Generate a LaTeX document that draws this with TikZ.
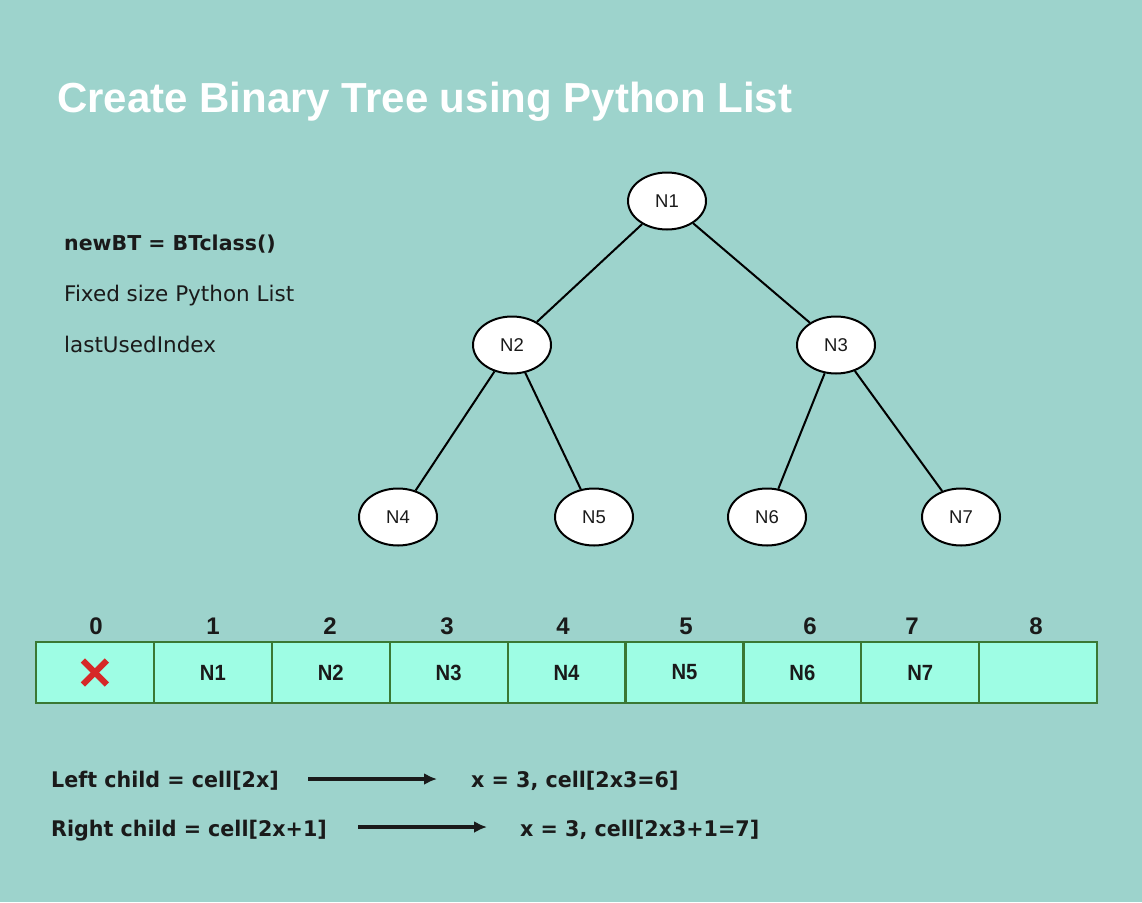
\documentclass[tikz,border=0pt]{standalone}
\usepackage{fontspec}
\setmainfont{Liberation Sans}
\newfontfamily\grande{DejaVu Sans}
\newfontfamily\grandetight[FakeStretch=0.96]{DejaVu Sans}
\newfontfamily\cellfont[FakeStretch=0.92]{Liberation Sans}
\usetikzlibrary{arrows.meta,shapes.geometric}

\definecolor{bgteal}{HTML}{9DD3CC}
\definecolor{cellfill}{HTML}{9EFDE4}
\definecolor{cellline}{HTML}{3A7834}
\definecolor{crossred}{HTML}{D62828}
\definecolor{ink}{HTML}{1A1A1A}

\tikzset{
  treenode/.style={ellipse, draw=black, line width=2pt, fill=white,
    minimum width=78pt, minimum height=57pt, inner sep=0pt,
    font=\fontsize{18.5}{20}\selectfont, text=ink},
  treeedge/.style={draw=black, line width=2pt},
  cellbox/.style={rectangle, draw=cellline, line width=2.2pt, fill=cellfill,
    minimum width=117.9pt, minimum height=61pt, inner sep=0pt,
    font=\cellfont\bfseries\fontsize{22}{24}\selectfont, text=ink},
  idxlabel/.style={inner sep=0pt, anchor=base, text=ink,
    font=\bfseries\fontsize{24}{26}\selectfont},
  lefttext/.style={inner sep=0pt, anchor=base west, text=ink},
  ruletext/.style={lefttext, font=\grandetight\bfseries\fontsize{21.5}{24}\selectfont},
  rulearrow/.style={draw=ink, line width=3.2pt, -{Latex[length=13pt,width=12pt]}}
}

\begin{document}
\begin{tikzpicture}[x=1pt,y=-1pt]
  % background
  \fill[bgteal] (0,0) rectangle (1142,902);
  \useasboundingbox (0,0) rectangle (1142,902);

  % title
  \node[inner sep=0pt, anchor=base west, text=white,
        font=\bfseries\fontsize{42}{48}\selectfont] (title) at (57,112)
        {Create Binary Tree using Python List};

  % notes on the left
  \node[lefttext, font=\grande\bfseries\fontsize{20.5}{24}\selectfont] (ctor) at (64,250) {newBT = BTclass()};
  \node[lefttext, font=\grande\fontsize{21.5}{24}\selectfont] (fixed) at (64,301) {Fixed size Python List};
  \node[lefttext, font=\grande\fontsize{21.5}{24}\selectfont] (last) at (64,352) {lastUsedIndex};

  % tree
  \node[treenode] (n1) at (667,201) {N1};
  \node[treenode] (n2) at (512,345) {N2};
  \node[treenode] (n3) at (836,345) {N3};
  \node[treenode] (n4) at (398,517) {N4};
  \node[treenode] (n5) at (594,517) {N5};
  \node[treenode] (n6) at (767,517) {N6};
  \node[treenode] (n7) at (961,517) {N7};
  \draw[treeedge] (n1) -- (n2);
  \draw[treeedge] (n1) -- (n3);
  \draw[treeedge] (n2) -- (n4);
  \draw[treeedge] (n2) -- (n5);
  \draw[treeedge] (n3) -- (n6);
  \draw[treeedge] (n3) -- (n7);

  % list cells
  \foreach \i/\t in {0/{}, 1/N1, 2/N2, 3/N3, 4/N4, 5/N5, 6/N6, 7/N7, 8/{}} {
    \node[cellbox] (c\i) at ({36+117.9*(\i+0.5)},672.5) {\t};
  }
  % index labels
  \foreach \i/\x in {0/96, 1/213, 2/330, 3/447, 4/563, 5/686, 6/810, 7/912, 8/1036} {
    \node[idxlabel] (i\i) at (\x,634) {\i};
  }
  % unused cell zero
  \draw[crossred, line width=6pt] ([shift={(-12,-12)}]c0.center) -- ([shift={(12,12)}]c0.center);
  \draw[crossred, line width=6pt] ([shift={(-12,12)}]c0.center) -- ([shift={(12,-12)}]c0.center);

  % child index rules
  \node[ruletext] (lrule) at (51,787) {Left child = cell[2x]};
  \node[ruletext] (lex) at (471,787) {x = 3, cell[2x3=6]};
  \node[ruletext] (rrule) at (51,836) {Right child = cell[2x+1]};
  \node[ruletext] (rex) at (520,836) {x = 3, cell[2x3+1=7]};
  \coordinate (la) at (308,779);
  \coordinate (lb) at (437,779);
  \coordinate (ra) at (358,827);
  \coordinate (rb) at (487,827);
  \draw[rulearrow] (la) -- (lb);
  \draw[rulearrow] (ra) -- (rb);
\end{tikzpicture}
\end{document}
